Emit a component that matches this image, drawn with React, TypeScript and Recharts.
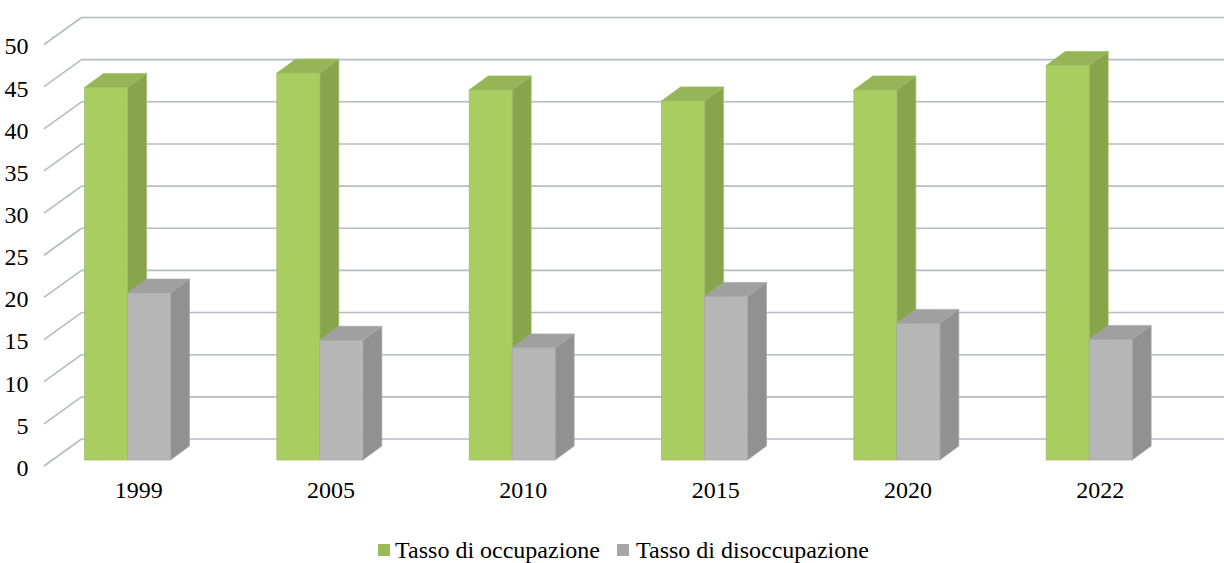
import React from "react";
import { BarChart, Bar, XAxis, YAxis, CartesianGrid, Legend } from "recharts";

const years = ["1999", "2005", "2010", "2015", "2020", "2022"];
const occupazione = [44.2, 45.9, 43.9, 42.6, 43.9, 46.8];
const disoccupazione = [19.8, 14.2, 13.3, 19.4, 16.2, 14.3];
const yTicks = [0, 5, 10, 15, 20, 25, 30, 35, 40, 45, 50];
const seriesNames = ["Tasso di occupazione", "Tasso di disoccupazione"];

const data = years.map((year, i) => ({
  year,
  occ: occupazione[i],
  dis: disoccupazione[i],
}));

const FONT = '"Liberation Serif", "Times New Roman", serif';
const GRID = "#B6BBC2";

// depth of a bar
const BAR_DX = 19;
const BAR_DY = -14;

function makeBox(front: string, top: string, side: string, edge: string) {
  return (props: any) => {
    const { x, y, width, height } = props;
    if (height == null || width == null) return null;
    const r = x + width;
    const b = y + height;
    return (
      <g>
        <polygon
          points={`${x},${y} ${x + BAR_DX},${y + BAR_DY} ${r + BAR_DX},${y + BAR_DY} ${r},${y}`}
          fill={top}
          stroke={edge}
          strokeWidth={0.7}
        />
        <polygon
          points={`${r},${y} ${r + BAR_DX},${y + BAR_DY} ${r + BAR_DX},${b + BAR_DY} ${r},${b}`}
          fill={side}
          stroke={edge}
          strokeWidth={0.7}
        />
        <rect x={x} y={y} width={width} height={height} fill={front} stroke={edge} strokeWidth={0.7} />
      </g>
    );
  };
}

const greenBox = makeBox("#AACD62", "#96B556", "#88A54C", "#9DBB69");
const greyBox = makeBox("#B6B6B6", "#A0A0A0", "#919191", "#A8A8A8");

// grid lines drawn on the back wall, with the diagonal on the side wall
const gridLine = (props: any) => {
  const { x1, x2, y1, index } = props;
  return (
    <g key={`g-${index}`}>
      <line x1={x1 + 12.5} y1={y1 + 6} x2={x1 + 50} y2={y1 - 21} stroke={GRID} strokeWidth={1.6} />
      <line x1={x1 + 50} y1={y1 - 21} x2={x2 + 70} y2={y1 - 21} stroke={GRID} strokeWidth={1.6} />
    </g>
  );
};

const YTick = (props: any) => {
  const { x, y, payload } = props;
  return (
    <text x={x + 5} y={y + 7.5} dy="0.35em" textAnchor="end" fontFamily={FONT} fontSize={24} fill="#000">
      {payload.value}
    </text>
  );
};

const XTick = (props: any) => {
  const { x, y, payload } = props;
  return (
    <text x={x + 11} y={y + 22} dy="0.35em" textAnchor="middle" fontFamily={FONT} fontSize={24} fill="#000">
      {payload.value}
    </text>
  );
};

const renderLegend = (props: any) => {
  const items = [...(props.payload || [])].sort(
    (a: any, b: any) => seriesNames.indexOf(a.value) - seriesNames.indexOf(b.value)
  );
  return (
    <div
      style={{
        display: "flex",
        justifyContent: "center",
        alignItems: "center",
        height: 26,
        paddingLeft: 23,
        fontFamily: FONT,
        fontSize: 24,
        color: "#000",
      }}
    >
      {items.map((entry: any, i: number) => (
        <div key={entry.value} style={{ display: "flex", alignItems: "center", marginLeft: i ? 17 : 0 }}>
          <span style={{ width: 12, height: 12, background: entry.color, marginRight: i ? 7 : 5, display: "inline-block" }} />
          <span>{entry.value}</span>
        </div>
      ))}
    </div>
  );
};

export default function App() {
  return (
    <div style={{ position: "absolute", left: 0, top: 0, width: 1224, height: 563, background: "#fff" }}>
      <BarChart
        width={1224}
        height={563}
        data={data}
        barSize={43}
        barGap={0}
        margin={{ top: 38.5, right: 38.5, bottom: 0, left: 1.5 }}
      >
        <CartesianGrid vertical={false} horizontal={gridLine} />
        <XAxis dataKey="year" axisLine={false} tickLine={false} height={77} tick={<XTick />} interval={0} />
        <YAxis
          domain={[0, 50]}
          ticks={yTicks}
          width={30}
          axisLine={false}
          tickLine={false}
          tick={<YTick />}
          interval={0}
        />
        <Legend
          verticalAlign="bottom"
          content={renderLegend}
          wrapperStyle={{ left: 0, width: 1224 }}
        />
        <Bar dataKey="occ" name={seriesNames[0]} fill="#9BBB59" shape={greenBox} isAnimationActive={false} />
        <Bar dataKey="dis" name={seriesNames[1]} fill="#A6A6A6" shape={greyBox} isAnimationActive={false} />
      </BarChart>
    </div>
  );
}
